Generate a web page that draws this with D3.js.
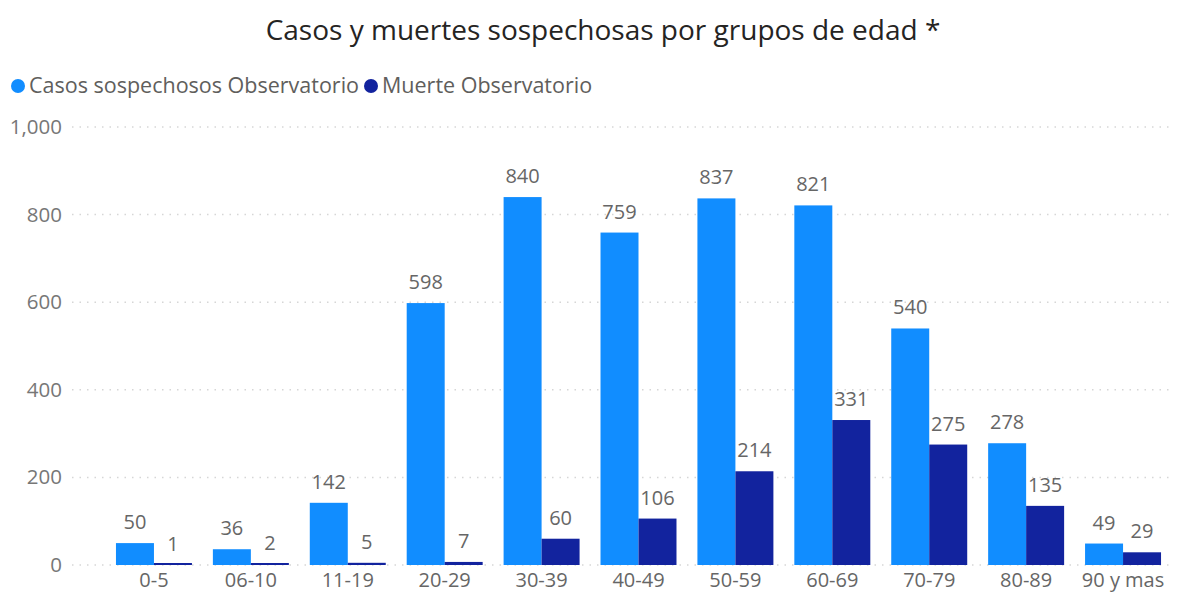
<!DOCTYPE html>
<html><head><meta charset="utf-8">
<script src="https://cdn.jsdelivr.net/npm/d3@7"></script>
<style>body{margin:0;background:#fff;} svg{display:block;font-family:"Open Sans","Noto Sans",sans-serif;}</style>
</head><body>
<svg id="c" width="1184" height="594"></svg>
<script>
const categories = ["0-5","06-10","11-19","20-29","30-39","40-49","50-59","60-69","70-79","80-89","90 y mas"];
const casos = [50,36,142,598,840,759,837,821,540,278,49];
const muertes = [1,2,5,7,60,106,214,331,275,135,29];
const yTicks = [0,200,400,600,800,1000];
const seriesNames = ["Casos sospechosos Observatorio","Muerte Observatorio"];
const colors = ["#118DFF","#12239E"];

const svg = d3.select("#c");
const x = d3.scaleBand().domain(categories).range([105.5,1171.5]).paddingInner(0.216).paddingOuter(0.108);
const x1 = d3.scaleBand().domain([0,1]).range([0,x.bandwidth()]);
const y = d3.scaleLinear().domain([0,1000]).range([565,127]);

svg.append("text").attr("x",603).attr("y",40).attr("text-anchor","middle")
  .attr("font-size",28).attr("fill","#252423").text("Casos y muertes sospechosas por grupos de edad *");

// legend
const lg = svg.append("g");
let lx = 18;
seriesNames.forEach((n,i)=>{
  lg.append("circle").attr("cx",lx).attr("cy",86).attr("r",7).attr("fill",colors[i]);
  const t = lg.append("text").attr("x",lx+11).attr("y",93).attr("font-size",21.5).attr("fill","#605E5C").text(n);
  lx += t.node().getComputedTextLength() + 23;
});

// grid
const yAxis = d3.axisLeft(y).tickValues(yTicks).tickFormat(d3.format(",")).tickSize(0).tickPadding(0);
const ga = svg.append("g").attr("transform","translate(62,0)").call(yAxis);
ga.select(".domain").remove();
ga.selectAll("text").attr("font-size",20.5).attr("fill","#777").attr("font-family","'Open Sans','Noto Sans',sans-serif");
svg.append("g").selectAll("line").data(yTicks).join("line")
  .attr("x1",72).attr("x2",1172).attr("y1",d=>y(d)).attr("y2",d=>y(d))
  .attr("stroke","#d6d6d6").attr("stroke-width",1.5).attr("stroke-dasharray","1.5,6");

// bars
const data = categories.map((c,i)=>({c, v:[casos[i],muertes[i]]}));
const g = svg.append("g");
data.forEach(d=>{
  d.v.forEach((v,k)=>{
    const bx = x(d.c)+x1(k);
    const by = y(v);
    g.append("rect").attr("x",bx).attr("y",Math.min(by,y(0)-2)).attr("width",x1.bandwidth())
      .attr("height",Math.max(y(0)-by,2)).attr("fill",colors[k]);
    g.append("text").attr("x",bx+x1.bandwidth()/2).attr("y",by-14).attr("text-anchor","middle")
      .attr("font-size",20).attr("fill","#666").text(v);
  });
});

// x axis
const xAxis = d3.axisBottom(x).tickSize(0).tickPadding(0);
const gx = svg.append("g").attr("transform","translate(0,587)").call(xAxis);
gx.select(".domain").remove();
gx.selectAll("text").attr("font-size",20).attr("fill","#666").attr("dy","0").attr("font-family","'Open Sans','Noto Sans',sans-serif");
</script>
</body></html>
